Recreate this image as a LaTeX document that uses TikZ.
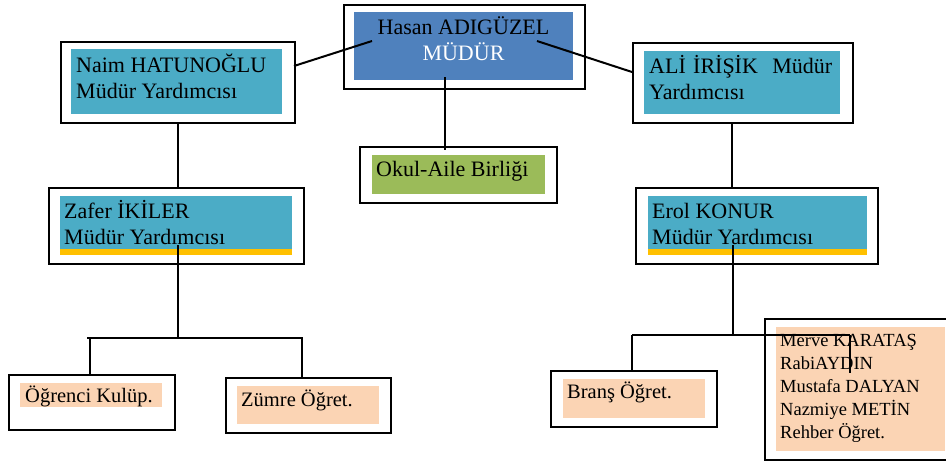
\documentclass[tikz,border=0pt]{standalone}
\usepackage{fontspec}
\setmainfont{Liberation Serif}
\definecolor{cblue}{HTML}{4F81BD}
\definecolor{cteal}{HTML}{4BACC6}
\definecolor{cgreen}{HTML}{9BBB59}
\definecolor{cpeach}{HTML}{FBD4B4}
\definecolor{cyell}{HTML}{FFC000}
\newcommand{\frm}[5]{\node[frame, minimum width={#4-#2}, minimum height={#5-#3}] (#1) at (#2,#3) {};}
\newcommand{\fil}[6]{\node[fillbox, fill=#6, minimum width={#4-#2}, minimum height={#5-#3}] (#1) at (#2,#3) {};}
\begin{document}
\begin{tikzpicture}[x=1pt,y=-1pt,
  frame/.style={draw=black, line width=2pt, inner sep=0pt, anchor=north west},
  fillbox/.style={draw=none, inner sep=0pt, anchor=north west},
  big/.style={font=\fontsize{22}{26}\selectfont, inner sep=0pt},
  mid/.style={font=\fontsize{20.5}{24}\selectfont, inner sep=0pt, anchor=base west},
  small/.style={font=\fontsize{18.5}{23}\selectfont, inner sep=0pt},
  conn/.style={draw=black, line width=2pt}]
\clip (0,0) rectangle (946,461);
\useasboundingbox (0,0) rectangle (946,461);
% frames
\frm{hasanF}{343}{4}{584}{88}
\frm{naimF}{60}{41}{294}{122}
\frm{okulF}{359}{146}{556}{202}
\frm{aliF}{632}{42}{852}{122}
\frm{zaferF}{48}{187}{303}{263}
\frm{erolF}{635}{187}{877}{263}
\frm{ogrF}{8}{374}{174}{429}
\frm{zumF}{225}{377}{390}{432}
\frm{branF}{550}{370}{716}{426}
\frm{merF}{764}{318}{956}{459}
% fills
\fil{hasanB}{354}{12}{573}{80}{cblue}
\fil{naimB}{71}{49}{282}{114}{cteal}
\fil{okulB}{372}{155}{545}{194}{cgreen}
\fil{aliB}{644}{51}{840}{114}{cteal}
\fil{zaferB}{60}{196}{292}{249}{cteal}
\fil{zaferY}{60}{249}{292}{255}{cyell}
\fil{erolB}{648}{196}{867}{249}{cteal}
\fil{erolY}{648}{249}{867}{255}{cyell}
\fil{ogrB}{20}{383}{162}{407}{cpeach}
\fil{zumB}{237}{386}{379}{424}{cpeach}
\fil{branB}{563}{379}{705}{418}{cpeach}
\fil{merB}{776}{327}{945}{451}{cpeach}
% texts
\node[big, anchor=base, align=center] (hasanT) at (463.5,60) {Hasan ADIGÜZEL\\\textcolor{white}{MÜDÜR}};
\node[big, anchor=base west, align=left] (naimT) at (76,98) {Naim HATUNOĞLU\\Müdür Yardımcısı};
\node[big, anchor=base west] (okulT) at (376,176) {Okul-Aile Birliği};
\node[big, anchor=base west, align=left, text width=183pt] (aliT) at (649,73) {ALİ İRİŞİK\hfill Müdür\\Yardımcısı};
\node[big, anchor=base west, align=left] (zaferT) at (64,244) {Zafer İKİLER\\Müdür Yardımcısı};
\node[big, anchor=base west, align=left] (erolT) at (652,244) {Erol KONUR\\Müdür Yardımcısı};
\node[mid] (ogrT) at (25,402) {Öğrenci Kulüp.};
\node[mid] (zumT) at (241,406) {Zümre Öğret.};
\node[mid] (branT) at (567,398) {Branş Öğret.};
\node[small, anchor=base west, align=left] (merT) at (780,438) {Merve KARATAŞ\\RabiAYDIN\\Mustafa DALYAN\\Nazmiye METİN\\Rehber Öğret.};
% connector points
\coordinate (naimOut) at (294,66);
\coordinate (hasanInL) at (372,41);
\coordinate (hasanInR) at (537,41);
\coordinate (aliIn) at (632,72);
\coordinate (hasanDown) at (445,77);
\coordinate (okulIn) at (445,150);
\coordinate (aliDown) at (732,122);
\coordinate (erolIn) at (732,187);
\coordinate (zaferOut) at (178,245);
\coordinate (zaferJ) at (178,338);
\coordinate (zaferL) at (87,338);
\coordinate (zaferR) at (303,338);
\coordinate (ogrTop) at (90,338);
\coordinate (zumTop) at (302,338);
\coordinate (erolOut) at (733,245);
\coordinate (erolJ) at (733,335);
\coordinate (branTop) at (632,335);
\coordinate (merTop) at (850,335);
\coordinate (merIn) at (850,373);
% connectors
\draw[conn] (naimOut) -- (hasanInL);
\draw[conn] (hasanInR) -- (aliIn);
\draw[conn] (hasanDown) -- (okulIn);
\draw[conn] (naimF.south) -- (naimF.south |- zaferF.north);
\draw[conn] (aliDown) -- (erolIn);
\draw[conn] (zaferOut) -- (zaferJ);
\draw[conn] (zaferL) -- (zaferR);
\draw[conn] (ogrTop) -- (ogrTop |- ogrF.north);
\draw[conn] (zumTop) -- (zumTop |- zumF.north);
\draw[conn] (erolOut) -- (erolJ);
\draw[conn] (branTop) -- (merTop);
\draw[conn] (branTop) -- (branTop |- branF.north);
\draw[conn] (merTop) -- (merIn);
\end{tikzpicture}
\end{document}
